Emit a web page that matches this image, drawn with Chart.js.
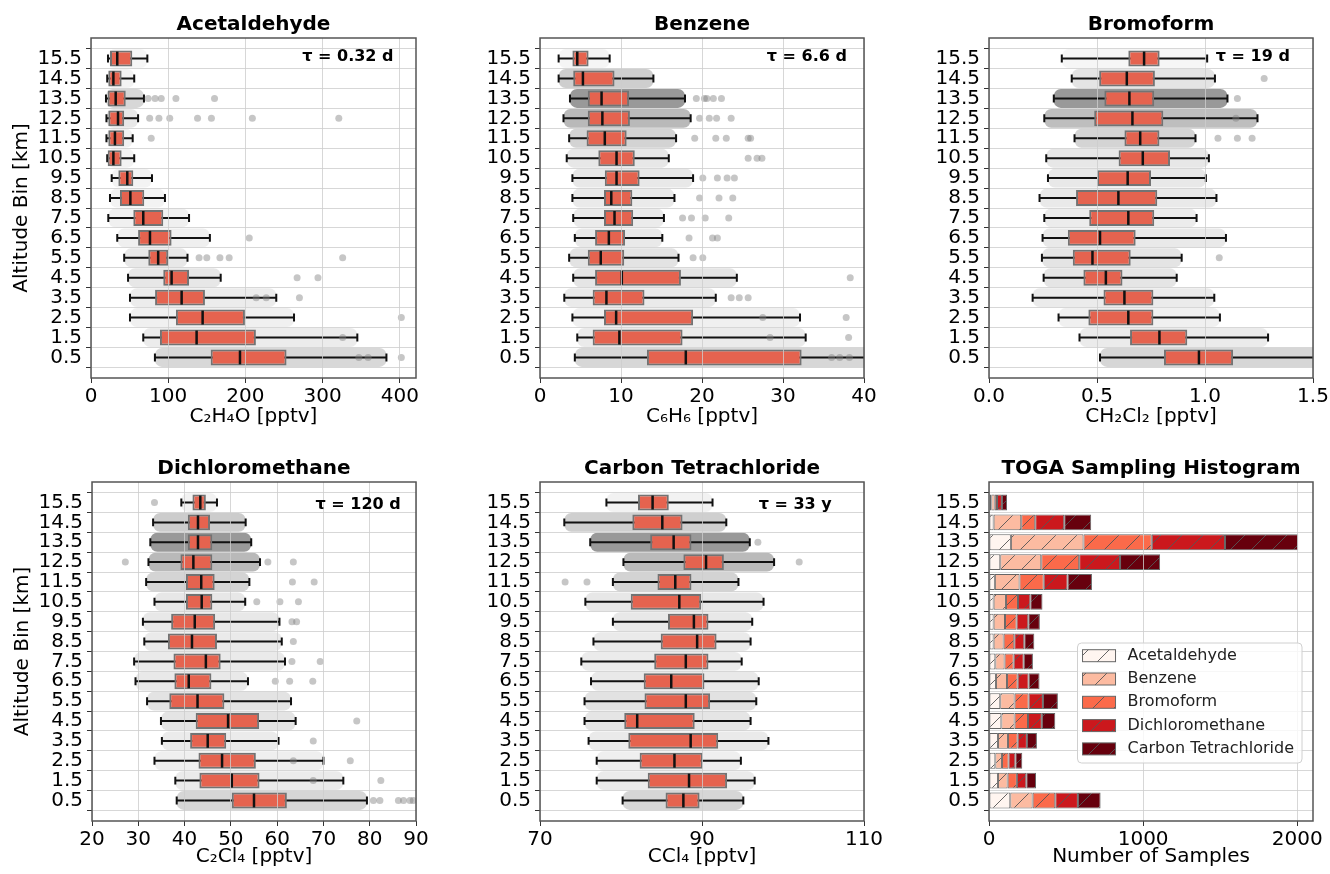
<!DOCTYPE html>
<html>
<head>
<meta charset="utf-8">
<script src="https://cdn.jsdelivr.net/npm/chart.js@4.4.0/dist/chart.umd.min.js"></script>
<style>
  body { margin: 0; background: #fff; width: 1330px; height: 874px; position: relative; overflow: hidden; }
  canvas { position: absolute; }
</style>
</head>
<body>
<canvas id="c1" width="445" height="437" style="left:1px;top:0px"></canvas>
<canvas id="c2" width="444" height="437" style="left:450px;top:0px"></canvas>
<canvas id="c3" width="444" height="437" style="left:899px;top:0px"></canvas>
<canvas id="c4" width="444" height="434" style="left:2px;top:440px"></canvas>
<canvas id="c5" width="444" height="434" style="left:450px;top:440px"></canvas>
<canvas id="c6" width="444" height="434" style="left:899px;top:440px"></canvas>
<script>
// altitude bins, top to bottom
const altitudes = [15.5, 14.5, 13.5, 12.5, 11.5, 10.5, 9.5, 8.5, 7.5, 6.5, 5.5, 4.5, 3.5, 2.5, 1.5, 0.5];

// Acetaldehyde, C2H4O [pptv]
const acetLo  = [22, 21, 19.4, 20, 20, 21, 26.8, 24.6, 22.4, 34, 43, 48, 50.5, 50.5, 67.7, 82.8];
const acetQ1  = [24.6, 22.4, 21.6, 22.4, 22.4, 21.6, 35.4, 37.5, 54.8, 61, 74.2, 93.6, 83, 110, 89.3, 155];
const acetMed = [34, 29, 32, 35, 31, 29, 47, 51, 67.7, 76.4, 87, 104.4, 117.4, 144.6, 136.8, 193];
const acetQ3  = [53.5, 39.7, 45, 43, 43, 39.7, 54.8, 69, 93.6, 104.4, 100, 127, 147.6, 199.4, 213.6, 253.3];
const acetHi  = [73, 56, 68.6, 61, 54, 56, 79, 95.8, 127, 154, 125, 168, 240, 263, 345, 382.7];
const acetOut = [[13.5, 74], [13.5, 83], [13.5, 91], [13.5, 110], [13.5, 160], [12.5, 76], [12.5, 88], [12.5, 102],
  [12.5, 138], [12.5, 156], [12.5, 209], [12.5, 321], [11.5, 78], [6.5, 205], [5.5, 140], [5.5, 150], [5.5, 167],
  [5.5, 179], [5.5, 326], [4.5, 267], [4.5, 294], [3.5, 214], [3.5, 227], [3.5, 270], [2.5, 402], [1.5, 326],
  [0.5, 347], [0.5, 359], [0.5, 402]];

// Benzene, C6H6 [pptv]
const benzLo  = [2.3, 2.3, 3.7, 2.9, 3.6, 3.3, 4.0, 4.0, 4.1, 4.3, 3.6, 4.1, 3.0, 4.0, 4.6, 4.3];
const benzQ1  = [4.0, 4.1, 5.9, 5.9, 5.75, 7.2, 8.0, 7.9, 7.9, 6.8, 5.9, 6.8, 6.5, 7.9, 6.5, 13.2];
const benzMed = [4.6, 5.3, 7.6, 7.7, 8.0, 9.45, 9.45, 8.8, 9.2, 8.5, 7.5, 10.1, 8.2, 9.4, 9.8, 18.0];
const benzQ3  = [6.0, 9.2, 11.0, 11.1, 10.7, 11.7, 12.3, 11.4, 11.5, 10.5, 10.4, 17.4, 12.9, 18.9, 17.6, 32.3];
const benzHi  = [8.6, 14.0, 17.9, 18.6, 16.8, 15.9, 18.9, 16.6, 15.3, 15.1, 17.1, 24.3, 21.7, 32.1, 32.8, 41];
const benzOut = [[13.5, 19.3], [13.5, 20.3], [13.5, 20.6], [13.5, 21.4], [13.5, 22.4], [12.5, 19.7], [12.5, 20.9],
  [12.5, 21.8], [12.5, 23.6], [11.5, 19.1], [11.5, 21.7], [11.5, 23.0], [11.5, 25.7], [11.5, 26.0], [10.5, 25.7],
  [10.5, 26.8], [10.5, 27.4], [9.5, 20.1], [9.5, 21.9], [9.5, 23.1], [9.5, 24.0], [8.5, 19.7], [8.5, 22.1],
  [8.5, 23.8], [7.5, 17.6], [7.5, 18.7], [7.5, 20.4], [7.5, 23.3], [6.5, 18.4], [6.5, 21.3], [6.5, 21.9],
  [5.5, 18.9], [5.5, 20.1], [4.5, 38.3], [3.5, 23.6], [3.5, 24.6], [3.5, 25.7], [2.5, 27.5], [2.5, 37.8],
  [1.5, 28.4], [1.5, 38.1], [0.5, 36.0], [0.5, 37.0], [0.5, 38.2]];

// Bromoform, CH2Cl2 [pptv]
const bromLo  = [0.337, 0.383, 0.30, 0.256, 0.396, 0.265, 0.273, 0.234, 0.256, 0.248, 0.245, 0.253, 0.202, 0.322, 0.419, 0.514];
const bromQ1  = [0.645, 0.51, 0.534, 0.487, 0.627, 0.60, 0.50, 0.403, 0.464, 0.365, 0.388, 0.437, 0.53, 0.46, 0.653, 0.81];
const bromMed = [0.718, 0.638, 0.65, 0.664, 0.70, 0.712, 0.642, 0.599, 0.645, 0.514, 0.479, 0.541, 0.627, 0.645, 0.789, 0.972];
const bromQ3  = [0.79, 0.768, 0.765, 0.807, 0.789, 0.838, 0.75, 0.779, 0.765, 0.679, 0.656, 0.618, 0.761, 0.761, 0.918, 1.13];
const bromHi  = [1.01, 1.046, 1.104, 1.243, 0.956, 1.018, 1.004, 1.053, 0.961, 1.097, 0.892, 0.869, 1.043, 1.069, 1.292, 1.55];
const bromOut = [[14.5, 1.274], [13.5, 1.15], [12.5, 1.143], [11.5, 1.06], [11.5, 1.15], [11.5, 1.218], [5.5, 1.066]];

// Dichloromethane, C2Cl4 [pptv]
const dichLo  = [39.3, 33.2, 32.6, 32.2, 31.7, 33.5, 31.0, 31.3, 29.1, 29.4, 31.9, 34.9, 35.1, 33.5, 38.0, 38.3];
const dichQ1  = [41.7, 40.7, 40.7, 39.1, 40.3, 40.3, 37.1, 36.4, 37.6, 37.8, 36.7, 42.4, 41.2, 43.0, 43.2, 50.2];
const dichMed = [43.4, 42.9, 42.9, 41.9, 43.6, 43.7, 42.2, 41.6, 44.6, 40.9, 42.8, 49.4, 45.0, 48.1, 50.2, 55.0];
const dichQ3  = [44.6, 45.5, 46.0, 46.0, 46.5, 46.0, 46.6, 47.0, 47.8, 45.8, 48.6, 56.1, 49.0, 55.4, 56.2, 62.1];
const dichHi  = [47.0, 53.2, 54.4, 56.3, 54.0, 53.1, 60.5, 61.0, 61.7, 53.7, 63.0, 64.0, 60.3, 70.0, 74.3, 79.4];
const dichOut = [[15.5, 33.5], [12.5, 27.2], [12.5, 58], [12.5, 63.5], [11.5, 63.3], [11.5, 68], [10.5, 55.6],
  [10.5, 60.6], [10.5, 64.6], [9.5, 63.2], [9.5, 64.2], [8.5, 63.5], [7.5, 63.2], [7.5, 69.3], [6.5, 59.6],
  [6.5, 62.7], [6.5, 67.7], [4.5, 77.2], [3.5, 67.8], [2.5, 63.5], [2.5, 75.8], [1.5, 67.8], [1.5, 82.4],
  [0.5, 80.8], [0.5, 82.2], [0.5, 86.2], [0.5, 87.3], [0.5, 88.7], [0.5, 89.4]];

// Carbon tetrachloride, CCl4 [pptv]
const cclLo  = [78.2, 73.0, 76.2, 80.3, 79.0, 75.6, 79.0, 76.6, 75.1, 76.3, 75.5, 75.5, 76.0, 77.0, 77.0, 80.2];
const cclQ1  = [82.1, 81.4, 83.6, 87.7, 84.5, 81.2, 85.8, 84.9, 84.1, 82.8, 82.9, 80.4, 80.9, 82.3, 83.3, 85.5];
const cclMed = [83.9, 85.1, 86.5, 90.5, 86.7, 87.2, 89.0, 89.4, 88.0, 86.2, 88.0, 82.0, 88.6, 86.6, 88.4, 87.7];
const cclQ3  = [85.9, 87.6, 88.7, 92.7, 88.7, 89.9, 90.8, 91.8, 90.8, 90.3, 91.0, 89.1, 92.0, 90.1, 93.1, 89.7];
const cclHi  = [91.3, 93.0, 95.9, 98.9, 94.5, 97.6, 96.2, 96.0, 94.9, 97.0, 96.7, 96.0, 98.2, 94.8, 96.5, 95.1];
const cclOut = [[13.5, 96.9], [12.5, 102.0], [11.5, 73.1], [11.5, 75.8]];

// number of samples per bin (histogram)
const acetN = [15, 30, 142, 73, 38, 30, 30, 30, 41, 45, 73, 80, 58, 41, 58, 138];
const benzN = [22, 179, 471, 266, 160, 80, 74, 65, 60, 72, 93, 86, 65, 43, 63, 145];
const bromN = [15, 91, 443, 246, 157, 78, 75, 69, 59, 69, 91, 87, 63, 43, 60, 147];
const dichN = [32, 188, 475, 265, 155, 80, 76, 65, 65, 71, 93, 90, 60, 44, 61, 147];
const cclN  = [33, 175, 475, 260, 158, 79, 75, 65, 60, 71, 97, 87, 65, 45, 63, 147];

const speciesNames = ['Acetaldehyde', 'Benzene', 'Bromoform', 'Dichloromethane', 'Carbon Tetrachloride'];
const speciesColors = ['#fff5f0', '#fcbba1', '#fb6a4a', '#cb181d', '#67000d'];

const FONT = 'DejaVu Sans';
const GRID = 'rgba(205,205,205,0.8)';
const BOX_FILL = '#e5634f';

const rows = {
  top:    { titlePad: { top: 13, bottom: 1 }, xHeight: 59, xTitlePad: 8 },
  bottom: { titlePad: { top: 17, bottom: 1 }, xHeight: 53, xTitlePad: 5 }
};

// whiskers under the boxes, medians above
const boxWhisker = {
  id: 'boxWhisker',
  beforeDatasetDraw(chart, args, opts) {
    if (!opts.lo || args.index !== 1) return;
    const { ctx, chartArea, scales: { x, y } } = chart;
    const bars = chart.getDatasetMeta(1).data;
    ctx.save();
    ctx.beginPath();
    ctx.rect(chartArea.left, chartArea.top, chartArea.right - chartArea.left, chartArea.bottom - chartArea.top);
    ctx.clip();
    ctx.strokeStyle = '#111';
    ctx.lineWidth = 2;
    altitudes.forEach((a, i) => {
      const py = y.getPixelForValue(a);
      const cap = bars[i].height / 4;
      const x0 = x.getPixelForValue(opts.lo[i]), x1 = x.getPixelForValue(opts.hi[i]);
      ctx.beginPath();
      ctx.moveTo(x0, py); ctx.lineTo(x1, py);
      ctx.moveTo(x0, py - cap); ctx.lineTo(x0, py + cap);
      ctx.moveTo(x1, py - cap); ctx.lineTo(x1, py + cap);
      ctx.stroke();
    });
    ctx.restore();
  },
  afterDatasetsDraw(chart, args, opts) {
    if (!opts.med) return;
    const { ctx, scales: { x, y } } = chart;
    const bars = chart.getDatasetMeta(1).data;
    ctx.save();
    ctx.strokeStyle = '#111';
    ctx.lineWidth = 2.5;
    altitudes.forEach((a, i) => {
      const py = y.getPixelForValue(a);
      const h = bars[i].height / 2 - 1;
      const px = x.getPixelForValue(opts.med[i]);
      ctx.beginPath();
      ctx.moveTo(px, py - h); ctx.lineTo(px, py + h);
      ctx.stroke();
    });
    ctx.restore();
  }
};

// lifetime label and full frame
const panelExtras = {
  id: 'panelExtras',
  afterDraw(chart, args, opts) {
    const { ctx, chartArea } = chart;
    ctx.save();
    if (opts.tau) {
      ctx.font = 'bold 16px "' + FONT + '"';
      ctx.fillStyle = '#000';
      ctx.textAlign = 'left';
      ctx.textBaseline = 'middle';
      ctx.fillText(opts.tau, chartArea.left + opts.tauX * (chartArea.right - chartArea.left), chartArea.top + opts.tauDy);
    }
    ctx.strokeStyle = '#555';
    ctx.lineWidth = 1.5;
    ctx.strokeRect(chartArea.left, chartArea.top, chartArea.right - chartArea.left, chartArea.bottom - chartArea.top);
    ctx.restore();
  }
};

// framed legend in the lower right of the histogram
const histLegend = {
  id: 'histLegend',
  afterDraw(chart, args, opts) {
    if (!opts.show) return;
    const { ctx, chartArea } = chart;
    const ds = chart.data.datasets;
    ctx.save();
    ctx.font = '16px "' + FONT + '"';
    const tw = Math.max(...ds.map(d => ctx.measureText(d.label).width));
    const w = 50 + tw + 8, h = 120;
    const x0 = chartArea.right - 11 - w, y0 = chartArea.bottom - 58 - h;
    ctx.beginPath();
    ctx.roundRect(x0, y0, w, h, 4);
    ctx.fillStyle = 'rgba(255,255,255,0.8)';
    ctx.fill();
    ctx.strokeStyle = '#d0d0d0';
    ctx.lineWidth = 1;
    ctx.stroke();
    ds.forEach((d, i) => {
      const cy = y0 + 12.7 + i * 23.3;
      ctx.fillStyle = d.backgroundColor;
      ctx.fillRect(x0 + 5, cy - 6, 33, 12);
      ctx.strokeStyle = '#666';
      ctx.strokeRect(x0 + 5, cy - 6, 33, 12);
      ctx.fillStyle = '#222';
      ctx.textAlign = 'left';
      ctx.textBaseline = 'middle';
      ctx.fillText(d.label, x0 + 50, cy);
    });
    ctx.restore();
  }
};

function hatch(color) {
  const s = 21;
  const c = document.createElement('canvas');
  c.width = s; c.height = s;
  const g = c.getContext('2d');
  g.fillStyle = color;
  g.fillRect(0, 0, s, s);
  g.strokeStyle = 'rgba(85,85,85,0.9)';
  g.lineWidth = 1;
  g.beginPath();
  g.moveTo(-1, s + 1); g.lineTo(s + 1, -1);
  g.stroke();
  return g.createPattern(c, 'repeat');
}

function axisCommon() {
  return {
    ticks: { font: { family: FONT, size: 20 }, color: '#000', maxRotation: 0, autoSkip: false },
    grid: { color: GRID, lineWidth: 1, z: 1, tickLength: 5, tickColor: '#333' },
    border: { display: false }
  };
}

function makeChart(id, cfg) {
  const row = rows[cfg.row];
  const xBase = axisCommon(), yBase = axisCommon();
  return new Chart(document.getElementById(id), {
    type: 'bar',
    data: { datasets: cfg.datasets },
    options: {
      responsive: false,
      animation: false,
      indexAxis: 'y',
      layout: { padding: { left: 0, right: 30, top: 0, bottom: 0 } },
      plugins: {
        legend: { display: false },
        tooltip: { enabled: false },
        title: {
          display: true, text: cfg.title, fullSize: false, color: '#000',
          font: { family: FONT, size: 20, weight: 'bold' }, padding: row.titlePad
        },
        boxWhisker: cfg.whisker || {},
        panelExtras: { tau: cfg.tau, tauX: cfg.tauX, tauDy: cfg.tauDy },
        histLegend: { show: !!cfg.legend }
      },
      scales: {
        x: {
          type: 'linear', min: cfg.xMin, max: cfg.xMax, stacked: !!cfg.stacked,
          afterBuildTicks: s => { s.ticks = cfg.xTicks.map(v => ({ value: v })); },
          afterFit: s => { s.height = row.xHeight; },
          ticks: Object.assign({}, xBase.ticks, { padding: 2, callback: cfg.xFmt }),
          grid: xBase.grid, border: xBase.border,
          title: {
            display: true, text: cfg.xLabel, color: '#000',
            font: { family: FONT, size: 20 }, padding: { top: 0, bottom: row.xTitlePad }
          }
        },
        y: {
          type: 'linear', min: 0, max: 16, stacked: !!cfg.stacked,
          afterBuildTicks: s => { s.ticks = altitudes.map(v => ({ value: v })); },
          afterFit: s => { s.width = 90; },
          ticks: Object.assign({}, yBase.ticks, { padding: 4, callback: v => v.toFixed(1) }),
          grid: yBase.grid, border: yBase.border,
          title: {
            display: !!cfg.yTitle, text: 'Altitude Bin [km]', color: '#000',
            font: { family: FONT, size: 20 }, padding: { top: 9, bottom: 0 }
          }
        }
      }
    },
    plugins: [boxWhisker, panelExtras, histLegend]
  });
}

function boxDatasets(lo, q1, q3, hi, out, counts) {
  return [
    {
      // point cloud behind each box, darker where more samples were taken
      data: altitudes.map((a, i) => ({ x: [lo[i], hi[i]], y: a })),
      backgroundColor: counts.map(n => 'rgba(128,128,128,' + Math.min(0.8, 0.04 + n / 520).toFixed(3) + ')'),
      borderWidth: 0, borderRadius: 7, borderSkipped: false,
      grouped: false, barPercentage: 0.95, categoryPercentage: 1, order: 3
    },
    {
      data: altitudes.map((a, i) => ({ x: [q1[i], q3[i]], y: a })),
      backgroundColor: BOX_FILL, borderColor: '#737373', borderWidth: 2, borderSkipped: false,
      grouped: false, barPercentage: 0.8, categoryPercentage: 1, order: 2
    },
    {
      type: 'scatter',
      data: out.map(p => ({ x: p[1], y: p[0] })),
      pointRadius: 3.5, pointBackgroundColor: 'rgba(128,128,128,0.45)', pointBorderWidth: 0, order: 1
    }
  ];
}

const num = v => String(v);

makeChart('c1', {
  row: 'top', title: 'Acetaldehyde', xLabel: 'C₂H₄O [pptv]', yTitle: true,
  xMin: 0, xMax: 421, xTicks: [0, 100, 200, 300, 400], xFmt: num,
  datasets: boxDatasets(acetLo, acetQ1, acetQ3, acetHi, acetOut, acetN),
  whisker: { lo: acetLo, hi: acetHi, med: acetMed },
  tau: 'τ = 0.32 d', tauX: 0.65, tauDy: 19
});
makeChart('c2', {
  row: 'top', title: 'Benzene', xLabel: 'C₆H₆ [pptv]',
  xMin: 0, xMax: 40, xTicks: [0, 10, 20, 30, 40], xFmt: num,
  datasets: boxDatasets(benzLo, benzQ1, benzQ3, benzHi, benzOut, benzN),
  whisker: { lo: benzLo, hi: benzHi, med: benzMed },
  tau: 'τ = 6.6 d', tauX: 0.70, tauDy: 19
});
makeChart('c3', {
  row: 'top', title: 'Bromoform', xLabel: 'CH₂Cl₂ [pptv]',
  xMin: 0, xMax: 1.5, xTicks: [0, 0.5, 1.0, 1.5], xFmt: v => v.toFixed(1),
  datasets: boxDatasets(bromLo, bromQ1, bromQ3, bromHi, bromOut, bromN),
  whisker: { lo: bromLo, hi: bromHi, med: bromMed },
  tau: 'τ = 19 d', tauX: 0.70, tauDy: 19
});
makeChart('c4', {
  row: 'bottom', title: 'Dichloromethane', xLabel: 'C₂Cl₄ [pptv]', yTitle: true,
  xMin: 20, xMax: 90, xTicks: [20, 30, 40, 50, 60, 70, 80, 90], xFmt: num,
  datasets: boxDatasets(dichLo, dichQ1, dichQ3, dichHi, dichOut, dichN),
  whisker: { lo: dichLo, hi: dichHi, med: dichMed },
  tau: 'τ = 120 d', tauX: 0.69, tauDy: 23
});
makeChart('c5', {
  row: 'bottom', title: 'Carbon Tetrachloride', xLabel: 'CCl₄ [pptv]',
  xMin: 70, xMax: 110, xTicks: [70, 90, 110], xFmt: num,
  datasets: boxDatasets(cclLo, cclQ1, cclQ3, cclHi, cclOut, cclN),
  whisker: { lo: cclLo, hi: cclHi, med: cclMed },
  tau: 'τ = 33 y', tauX: 0.675, tauDy: 23
});

const histCounts = [acetN, benzN, bromN, dichN, cclN];
makeChart('c6', {
  row: 'bottom', title: 'TOGA Sampling Histogram', xLabel: 'Number of Samples', stacked: true,
  xMin: 0, xMax: 2102, xTicks: [0, 1000, 2000], xFmt: num, legend: true,
  datasets: speciesNames.map((name, k) => ({
    label: name,
    data: altitudes.map((a, i) => ({ x: histCounts[k][i], y: a })),
    backgroundColor: hatch(speciesColors[k]),
    borderColor: '#666', borderWidth: 1, borderSkipped: false,
    barPercentage: 0.8, categoryPercentage: 1
  }))
});
</script>
</body>
</html>
